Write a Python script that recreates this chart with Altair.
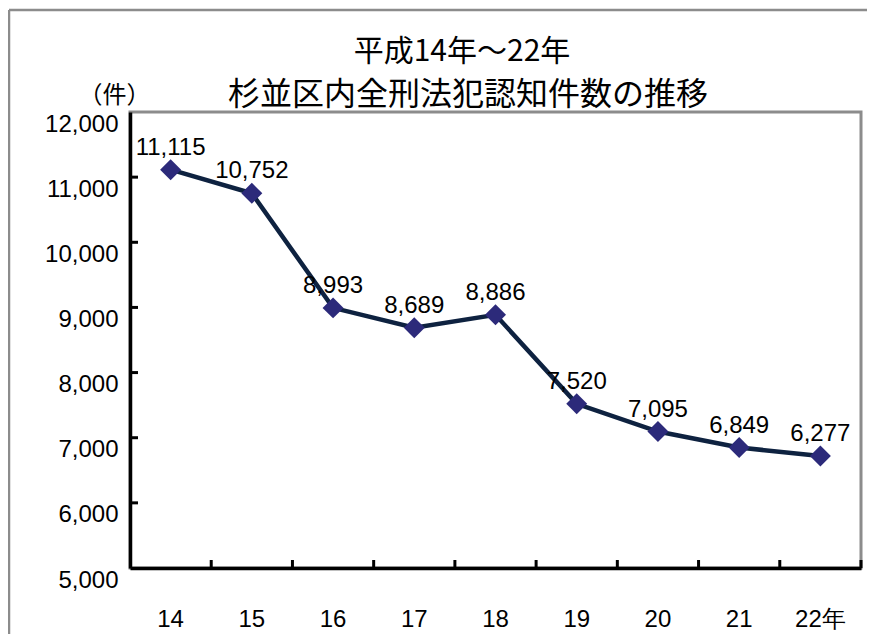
import altair as alt
import pandas as pd

# ---- data ----
years = ["14", "15", "16", "17", "18", "19", "20", "21", "22年"]
values = [11115, 10752, 8993, 8689, 8886, 7520, 7095, 6849, 6720]
labels = ["11,115", "10,752", "8,993", "8,689", "8,886", "7,520", "7,095", "6,849", "6,277"]
y_ticks = [5000, 6000, 7000, 8000, 9000, 10000, 11000, 12000]
inner_y_ticks = [6000, 7000, 8000, 9000, 10000, 11000]
title_lines = ["平成14年～22年", "杉並区内全刑法犯認知件数の推移"]
unit_label = "（件）"

df = pd.DataFrame({"year": years, "value": values, "label": labels})

W, H = 731, 456
NUM_FONT = "Liberation Sans"
JP_FONT = "Noto Sans CJK JP"

xscale = alt.Scale(paddingInner=0, paddingOuter=0)
yscale = alt.Scale(domain=[5000, 12000], nice=False, zero=False)

x_axis = alt.Axis(
    orient="bottom", domainColor="black", domainWidth=3.5, ticks=False,
    grid=False, labelAngle=0, labelFont=NUM_FONT, labelFontSize=24,
    labelColor="black", labelPadding=39, title=None,
)
y_axis = alt.Axis(
    values=y_ticks, format=",.0f", domainColor="black", domainWidth=3.5,
    ticks=False, grid=False, labelFont=NUM_FONT, labelFontSize=24,
    labelColor="black", labelPadding=12, labelOffset=12,
    title=unit_label, titleAngle=0, titleX=-16, titleY=-17,
    titleAlign="center", titleBaseline="middle", titleFont=JP_FONT,
    titleFontSize=24, titleFontWeight="normal", titleColor="black",
)

base = alt.Chart(df).encode(
    x=alt.X("year:N", sort=years, scale=xscale, axis=x_axis),
    y=alt.Y("value:Q", scale=yscale, axis=y_axis),
)

line = base.mark_line(color="#0e2240", strokeWidth=4.5)
points = base.mark_point(shape="diamond", filled=True, size=440,
                         color="#2c2a7a", opacity=1)
texts = base.mark_text(font=NUM_FONT, fontSize=24, dy=-22,
                       baseline="middle", color="black").encode(text="label:N")

ytick_rules = alt.Chart(pd.DataFrame({"value": inner_y_ticks})).mark_rule(
    color="black", strokeWidth=3
).encode(x=alt.value(0), x2=alt.value(8), y=alt.Y("value:Q", scale=yscale))

xtick_rules = alt.Chart(pd.DataFrame({"year": years[1:]})).mark_rule(
    color="black", strokeWidth=3
).encode(x=alt.X("year:N", sort=years, scale=xscale, bandPosition=0),
         y=alt.value(H), y2=alt.value(H - 8))

one = pd.DataFrame({"k": [0]})
end_tick = alt.Chart(one).mark_rule(color="black", strokeWidth=3).encode(
    x=alt.value(W), y=alt.value(H), y2=alt.value(H - 8))

frame_top = alt.Chart(one).mark_rule(color="#8c8c8c", strokeWidth=2.5).encode(
    x=alt.value(-121), x2=alt.value(W + 10), y=alt.value(-102))
frame_left = alt.Chart(one).mark_rule(color="#8c8c8c", strokeWidth=2.5).encode(
    x=alt.value(-121), y=alt.value(-102), y2=alt.value(H + 70))

title1 = alt.Chart(one).mark_text(
    font=JP_FONT, fontSize=30, color="black", align="center", baseline="middle"
).encode(x=alt.value(332), y=alt.value(-60), text=alt.value(title_lines[0]))
title2 = alt.Chart(one).mark_text(
    font=JP_FONT, fontSize=32, color="black", align="center", baseline="middle"
).encode(x=alt.value(338), y=alt.value(-17), text=alt.value(title_lines[1]))

chart = alt.layer(
    frame_top, frame_left, title1, title2, line, points, texts,
    ytick_rules, xtick_rules, end_tick
).properties(
    width=W, height=H,
    autosize=alt.AutoSizeParams(type="none"),
    padding={"left": 122, "top": 104, "right": 6, "bottom": 66},
).configure_view(stroke="#8c8c8c", strokeWidth=3)

chart.save("out.html", embed_options={"renderer": "svg", "actions": False})
